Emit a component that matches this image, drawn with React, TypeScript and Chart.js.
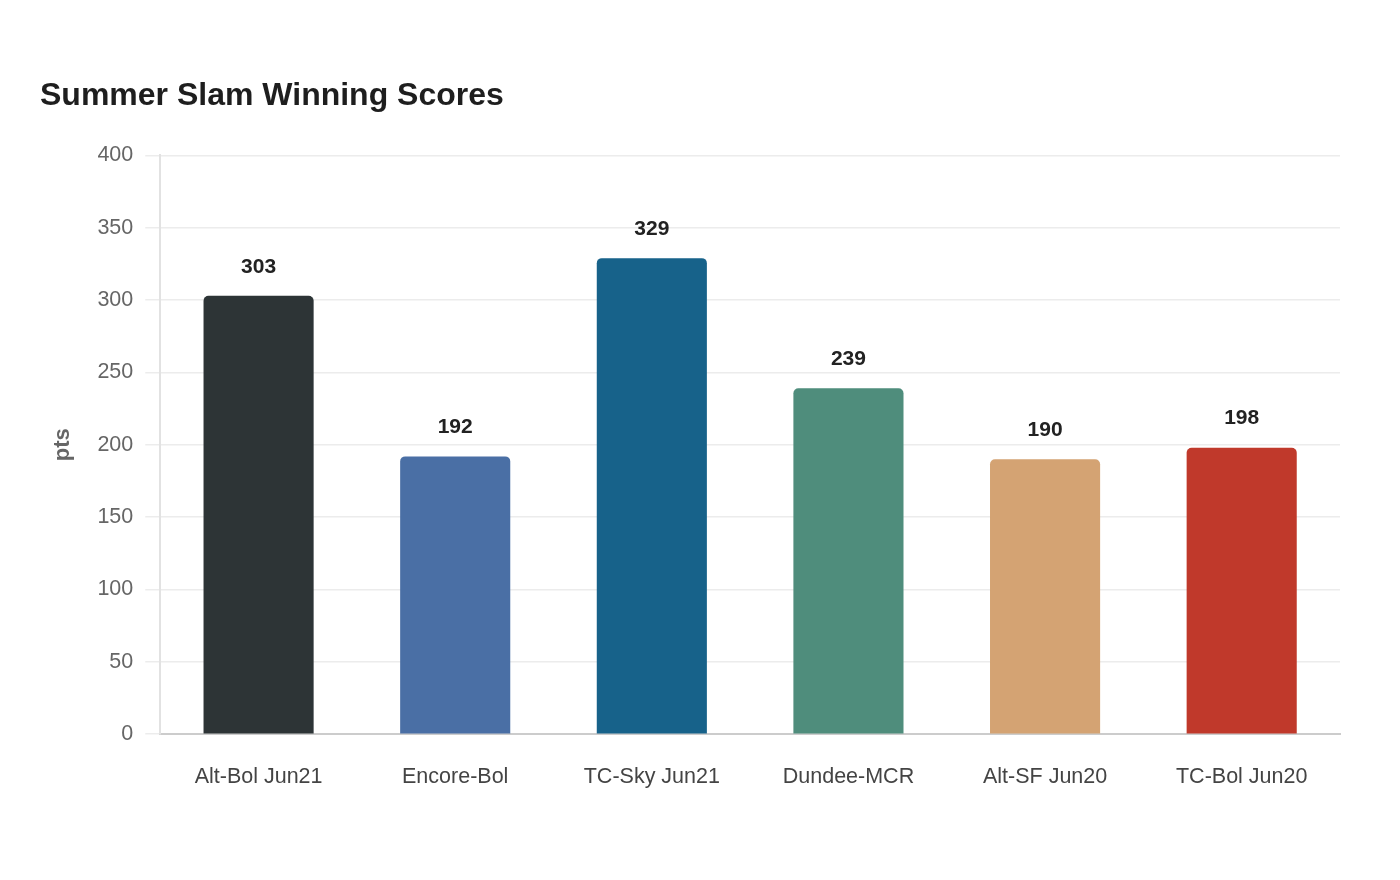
import React, { useEffect, useRef } from "react";
import { Chart, registerables } from "chart.js";

Chart.register(...registerables);

const categories = ["Alt-Bol Jun21", "Encore-Bol", "TC-Sky Jun21", "Dundee-MCR", "Alt-SF Jun20", "TC-Bol Jun20"];
const scores = [303, 192, 329, 239, 190, 198];
const barColors = ["#2d3436", "#4a6fa5", "#17628a", "#4f8d7c", "#d4a373", "#c0392b"];
const titleText = "Summer Slam Winning Scores";
const yTitle = "pts";

const valueLabels = {
  id: "valueLabels",
  afterDatasetsDraw(chart: any) {
    const ctx = chart.ctx;
    const meta = chart.getDatasetMeta(0);
    ctx.save();
    ctx.font = "bold 21px 'Liberation Sans', Arial, sans-serif";
    ctx.fillStyle = "#222222";
    ctx.textAlign = "center";
    ctx.textBaseline = "middle";
    meta.data.forEach((el: any, i: number) => {
      ctx.fillText(String(scores[i]), el.x, el.y - 29);
    });
    ctx.restore();
  },
};

export default function App() {
  const ref = useRef<HTMLCanvasElement>(null);
  useEffect(() => {
    if (!ref.current) return;
    Chart.defaults.font.family = "'Liberation Sans', Arial, sans-serif";
    const chart = new Chart(ref.current, {
      type: "bar",
      data: {
        labels: categories,
        datasets: [
          {
            data: scores,
            backgroundColor: barColors,
            borderRadius: { topLeft: 5, topRight: 5, bottomLeft: 0, bottomRight: 0 },
            borderSkipped: "bottom",
            categoryPercentage: 0.8,
            barPercentage: 0.7,
          },
        ],
      },
      options: {
        animation: false,
        responsive: false,
        maintainAspectRatio: false,
        layout: { padding: { left: 40, right: 60, top: 77, bottom: 60 } },
        plugins: {
          legend: { display: false },
          tooltip: { enabled: false },
          title: {
            display: true,
            text: titleText,
            align: "start",
            color: "#1e1e1e",
            font: { size: 32, weight: "bold" },
            padding: { top: 0, bottom: 40 },
          },
        },
        scales: {
          x: {
            grid: { display: false, drawTicks: false },
            border: { display: true, color: "#cccccc", width: 2 },
            ticks: { color: "#444444", font: { size: 21.5 }, padding: 30 },
          },
          y: {
            min: 0,
            max: 400,
            ticks: { stepSize: 50, color: "#666666", font: { size: 21.5 }, padding: 12 },
            grid: { color: "#ececec", tickLength: 15, lineWidth: 1.5 },
            border: { display: true, color: "#e2e2e2", width: 2 },
            title: {
              display: true,
              text: yTitle,
              color: "#666666",
              font: { size: 22, weight: "bold" },
              padding: { top: 10, bottom: 9 },
            },
          },
        },
      },
      plugins: [valueLabels],
    });
    return () => chart.destroy();
  }, []);
  return (
    <div style={{ position: "fixed", left: 0, top: 0, width: 1400, height: 880, background: "#fff" }}>
      <canvas ref={ref} width={1400} height={880} style={{ width: 1400, height: 880, display: "block" }} />
    </div>
  );
}
